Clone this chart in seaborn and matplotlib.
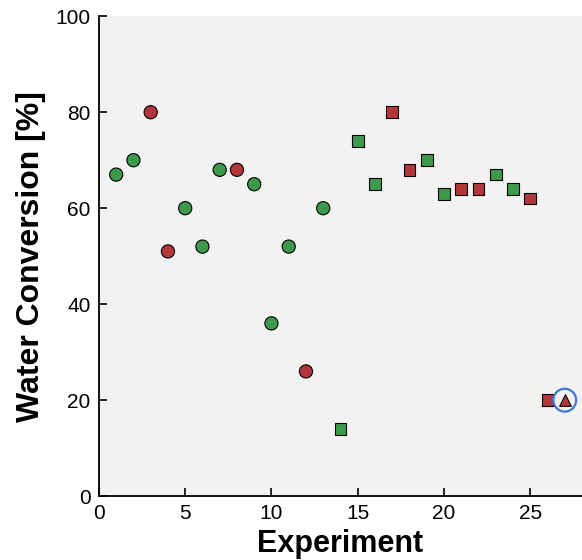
import numpy as np
import pandas as pd
import seaborn as sns
import matplotlib.pyplot as plt

# Dados
experimento = list(range(1, 28))
conversao = [67, 70, 80, 51, 60, 52, 68, 68, 65, 36, 52, 26, 60,
             14, 74, 65, 80, 68, 70, 63, 64, 64, 67, 64, 62, 20,
             20]
resultado = ['ok', 'ok', 'ruim', 'ruim', 'ok', 'ok', 'ok', 'ruim', 'ok', 'ok', 'ok', 'ruim', 'ok',
             'ok', 'ok', 'ok', 'ruim', 'ruim', 'ok', 'ok', 'ruim', 'ruim', 'ok', 'ok', 'ruim', 'ruim',
             'ruim']
grupo = ['A'] * 13 + ['B'] * 13 + ['C']
destaque = [27]

df = pd.DataFrame({'exp': experimento, 'conv': conversao,
                   'res': resultado, 'grupo': grupo})

cores = {'ok': '#3d9a4b', 'ruim': '#b3363a'}
marcadores = {'A': 'o', 'B': 's', 'C': '^'}
tamanhos = {'A': 90, 'B': 70, 'C': 70}

sns.set_style('ticks')
plt.rcParams['font.family'] = ['Liberation Sans', 'DejaVu Sans']
plt.rcParams['text.color'] = 'black'
plt.rcParams['axes.labelcolor'] = 'black'
plt.rcParams['xtick.color'] = 'black'
plt.rcParams['ytick.color'] = 'black'

fig = plt.figure(figsize=(5.82, 5.60), dpi=100)
ax = fig.add_axes([0.170, 0.114, 0.830, 0.857])
ax.set_facecolor('#f2f2f2')

for g in ['A', 'B', 'C']:
    sub = df[df['grupo'] == g]
    sns.scatterplot(data=sub, x='exp', y='conv', hue='res', palette=cores,
                    marker=marcadores[g], s=tamanhos[g], edgecolor='black',
                    linewidth=0.8, legend=False, ax=ax, zorder=3)

# círculo azul em volta do ponto destacado
hl = df[df['exp'].isin(destaque)]
ax.scatter(hl['exp'], hl['conv'], s=270, facecolors='none',
           edgecolors='#3b78d8', linewidths=1.6, zorder=4)

ax.set_xlim(0, 28)
ax.set_ylim(0, 100)
ax.set_xticks([0, 5, 10, 15, 20, 25])
ax.set_yticks([0, 20, 40, 60, 80, 100])
ax.tick_params(direction='in', length=6, width=1.2, labelsize=15, pad=6)
for s in ['top', 'right']:
    ax.spines[s].set_visible(False)
for s in ['left', 'bottom']:
    ax.spines[s].set_linewidth(1.3)
    ax.spines[s].set_color('black')

ax.set_xlabel('Experiment', fontsize=22, fontweight='bold', labelpad=4)
ax.set_ylabel('Water Conversion [%]', fontsize=23, fontweight='bold', labelpad=7)

fig.savefig('out.png', dpi=100)
